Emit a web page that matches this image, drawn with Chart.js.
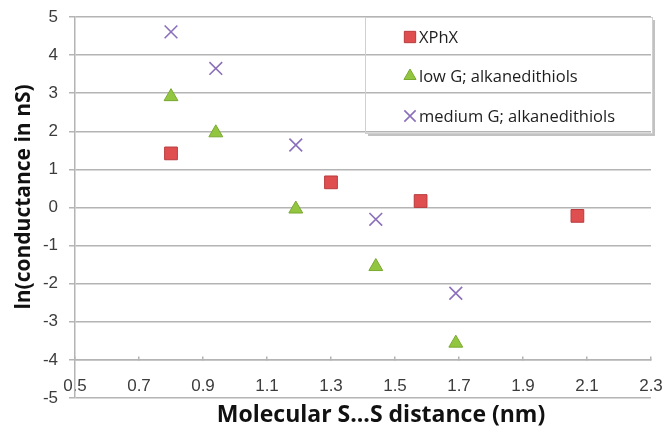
<!DOCTYPE html>
<html>
<head>
<meta charset="utf-8">
<script src="https://cdn.jsdelivr.net/npm/chart.js@4/dist/chart.umd.min.js"></script>
<style>
  html, body { margin: 0; padding: 0; background: #fff; }
  #chart { display: block; }
</style>
</head>
<body>
<canvas id="chart" width="666" height="429"></canvas>
<script>
// values
const xphxX = [0.80, 1.30, 1.58, 2.07];
const xphxY = [1.42, 0.66, 0.17, -0.22];

const lowX = [0.80, 0.94, 1.19, 1.44, 1.69];
const lowY = [2.91, 1.96, -0.04, -1.55, -3.56];

const medX = [0.80, 0.94, 1.19, 1.44, 1.69];
const medY = [4.61, 3.65, 1.64, -0.31, -2.25];

const seriesNames = ["XPhX", "low G; alkanedithiols", "medium G; alkanedithiols"];
const xTicks = [0.5, 0.7, 0.9, 1.1, 1.3, 1.5, 1.7, 1.9, 2.1, 2.3];
const yTicks = [-5, -4, -3, -2, -1, 0, 1, 2, 3, 4, 5];
const xTitle = "Molecular S...S distance (nm)";
const yTitle = "ln(conductance in nS)";

const toPoints = (xs, ys) => xs.map((x, i) => ({ x: x, y: ys[i] }));

const gridGray = "#b4b4b4";
const tickFont = { family: "Liberation Sans, Arial, sans-serif", size: 17 };

// no padding for the label overhang, the plot runs right to the edge
const noSidePad = (scale) => { scale.paddingLeft = 0; scale.paddingRight = 0; };

// axis titles sit a bit off centre in the original, so draw them here
const axisTitles = {
  id: "axisTitles",
  afterDraw(chart) {
    const ctx = chart.ctx;
    ctx.save();
    ctx.fillStyle = "#111";
    ctx.textAlign = "center";
    ctx.textBaseline = "middle";
    ctx.font = "bold 23px 'Open Sans', sans-serif";
    ctx.fillText(xTitle, 381, 415);
    ctx.translate(24, 197);
    ctx.rotate(-Math.PI / 2);
    ctx.font = "bold 21px 'Open Sans', sans-serif";
    ctx.fillText(yTitle, 0, 0);
    ctx.restore();
  }
};

// legend box drawn inside the plot, like the original
const boxLegend = {
  id: "boxLegend",
  afterDraw(chart) {
    const ctx = chart.ctx;
    const left = 365, top = 17, right = 652, bottom = 133;
    ctx.save();
    ctx.strokeStyle = "rgba(120,120,120,0.45)";
    ctx.lineWidth = 3;
    ctx.beginPath();
    ctx.moveTo(left + 3, bottom + 1.5);
    ctx.lineTo(right + 1.5, bottom + 1.5);
    ctx.lineTo(right + 1.5, top + 3);
    ctx.stroke();
    ctx.strokeStyle = "#cfcfcf";
    ctx.lineWidth = 1;
    ctx.strokeRect(left + 0.5, top + 0.5, right - left, bottom - top);

    const rows = [37, 76, 116];
    ctx.font = "16.5px 'Open Sans', sans-serif";
    ctx.textBaseline = "middle";
    ctx.textAlign = "left";
    chart.data.datasets.forEach((ds, i) => {
      ctx.fillStyle = ds.backgroundColor;
      ctx.strokeStyle = ds.borderColor;
      ctx.lineWidth = ds.borderWidth;
      Chart.helpers.drawPoint(ctx, {
        pointStyle: ds.pointStyle,
        radius: ds.pointRadius - 1,
        rotation: 0,
        borderWidth: ds.borderWidth
      }, 410, rows[i]);
      ctx.fillStyle = "#1e1e1e";
      ctx.fillText(ds.label, 419, rows[i] + 1);
    });
    ctx.restore();
  }
};

new Chart(document.getElementById("chart"), {
  type: "scatter",
  data: {
    datasets: [
      {
        label: seriesNames[0],
        data: toPoints(xphxX, xphxY),
        pointStyle: "rect",
        pointRadius: 9,
        backgroundColor: "#e04f50",
        borderColor: "#b83a3c",
        borderWidth: 1
      },
      {
        label: seriesNames[1],
        data: toPoints(lowX, lowY),
        pointStyle: "triangle",
        pointRadius: 8,
        backgroundColor: "#93c640",
        borderColor: "#79a92f",
        borderWidth: 1
      },
      {
        label: seriesNames[2],
        data: toPoints(medX, medY),
        pointStyle: "crossRot",
        pointRadius: 9,
        backgroundColor: "#8a70bb",
        borderColor: "#8a70bb",
        borderWidth: 1.6
      }
    ]
  },
  options: {
    responsive: false,
    animation: false,
    layout: { padding: { top: 17, right: 15, bottom: 31, left: 0 } },
    plugins: { legend: { display: false }, tooltip: { enabled: false } },
    scales: {
      x: {
        type: "linear",
        position: { y: -4 },
        min: 0.5,
        max: 2.3,
        afterBuildTicks: (scale) => { scale.ticks = xTicks.map(v => ({ value: v })); },
        afterFit: noSidePad,
        ticks: {
          autoSkip: false,
          maxRotation: 0,
          padding: 20,
          color: "#3c3c3c",
          font: tickFont,
          callback: (v) => Number(v).toFixed(1)
        },
        grid: { drawOnChartArea: false, drawTicks: true, tickLength: -4, color: gridGray, lineWidth: 1.5 },
        border: { color: gridGray, width: 1.5 }
      },
      y: {
        type: "linear",
        position: "left",
        min: -5,
        max: 5,
        afterBuildTicks: (scale) => { scale.ticks = yTicks.map(v => ({ value: v })); },
        afterFit: (scale) => { scale.width = 75; scale.paddingTop = 0; scale.paddingBottom = 0; },
        ticks: { padding: 11, color: "#3c3c3c", font: tickFont },
        grid: { color: gridGray, lineWidth: 1.5, tickLength: 6 },
        border: { color: gridGray, width: 1.5 }
      }
    }
  },
  plugins: [boxLegend, axisTitles]
});
</script>
</body>
</html>
